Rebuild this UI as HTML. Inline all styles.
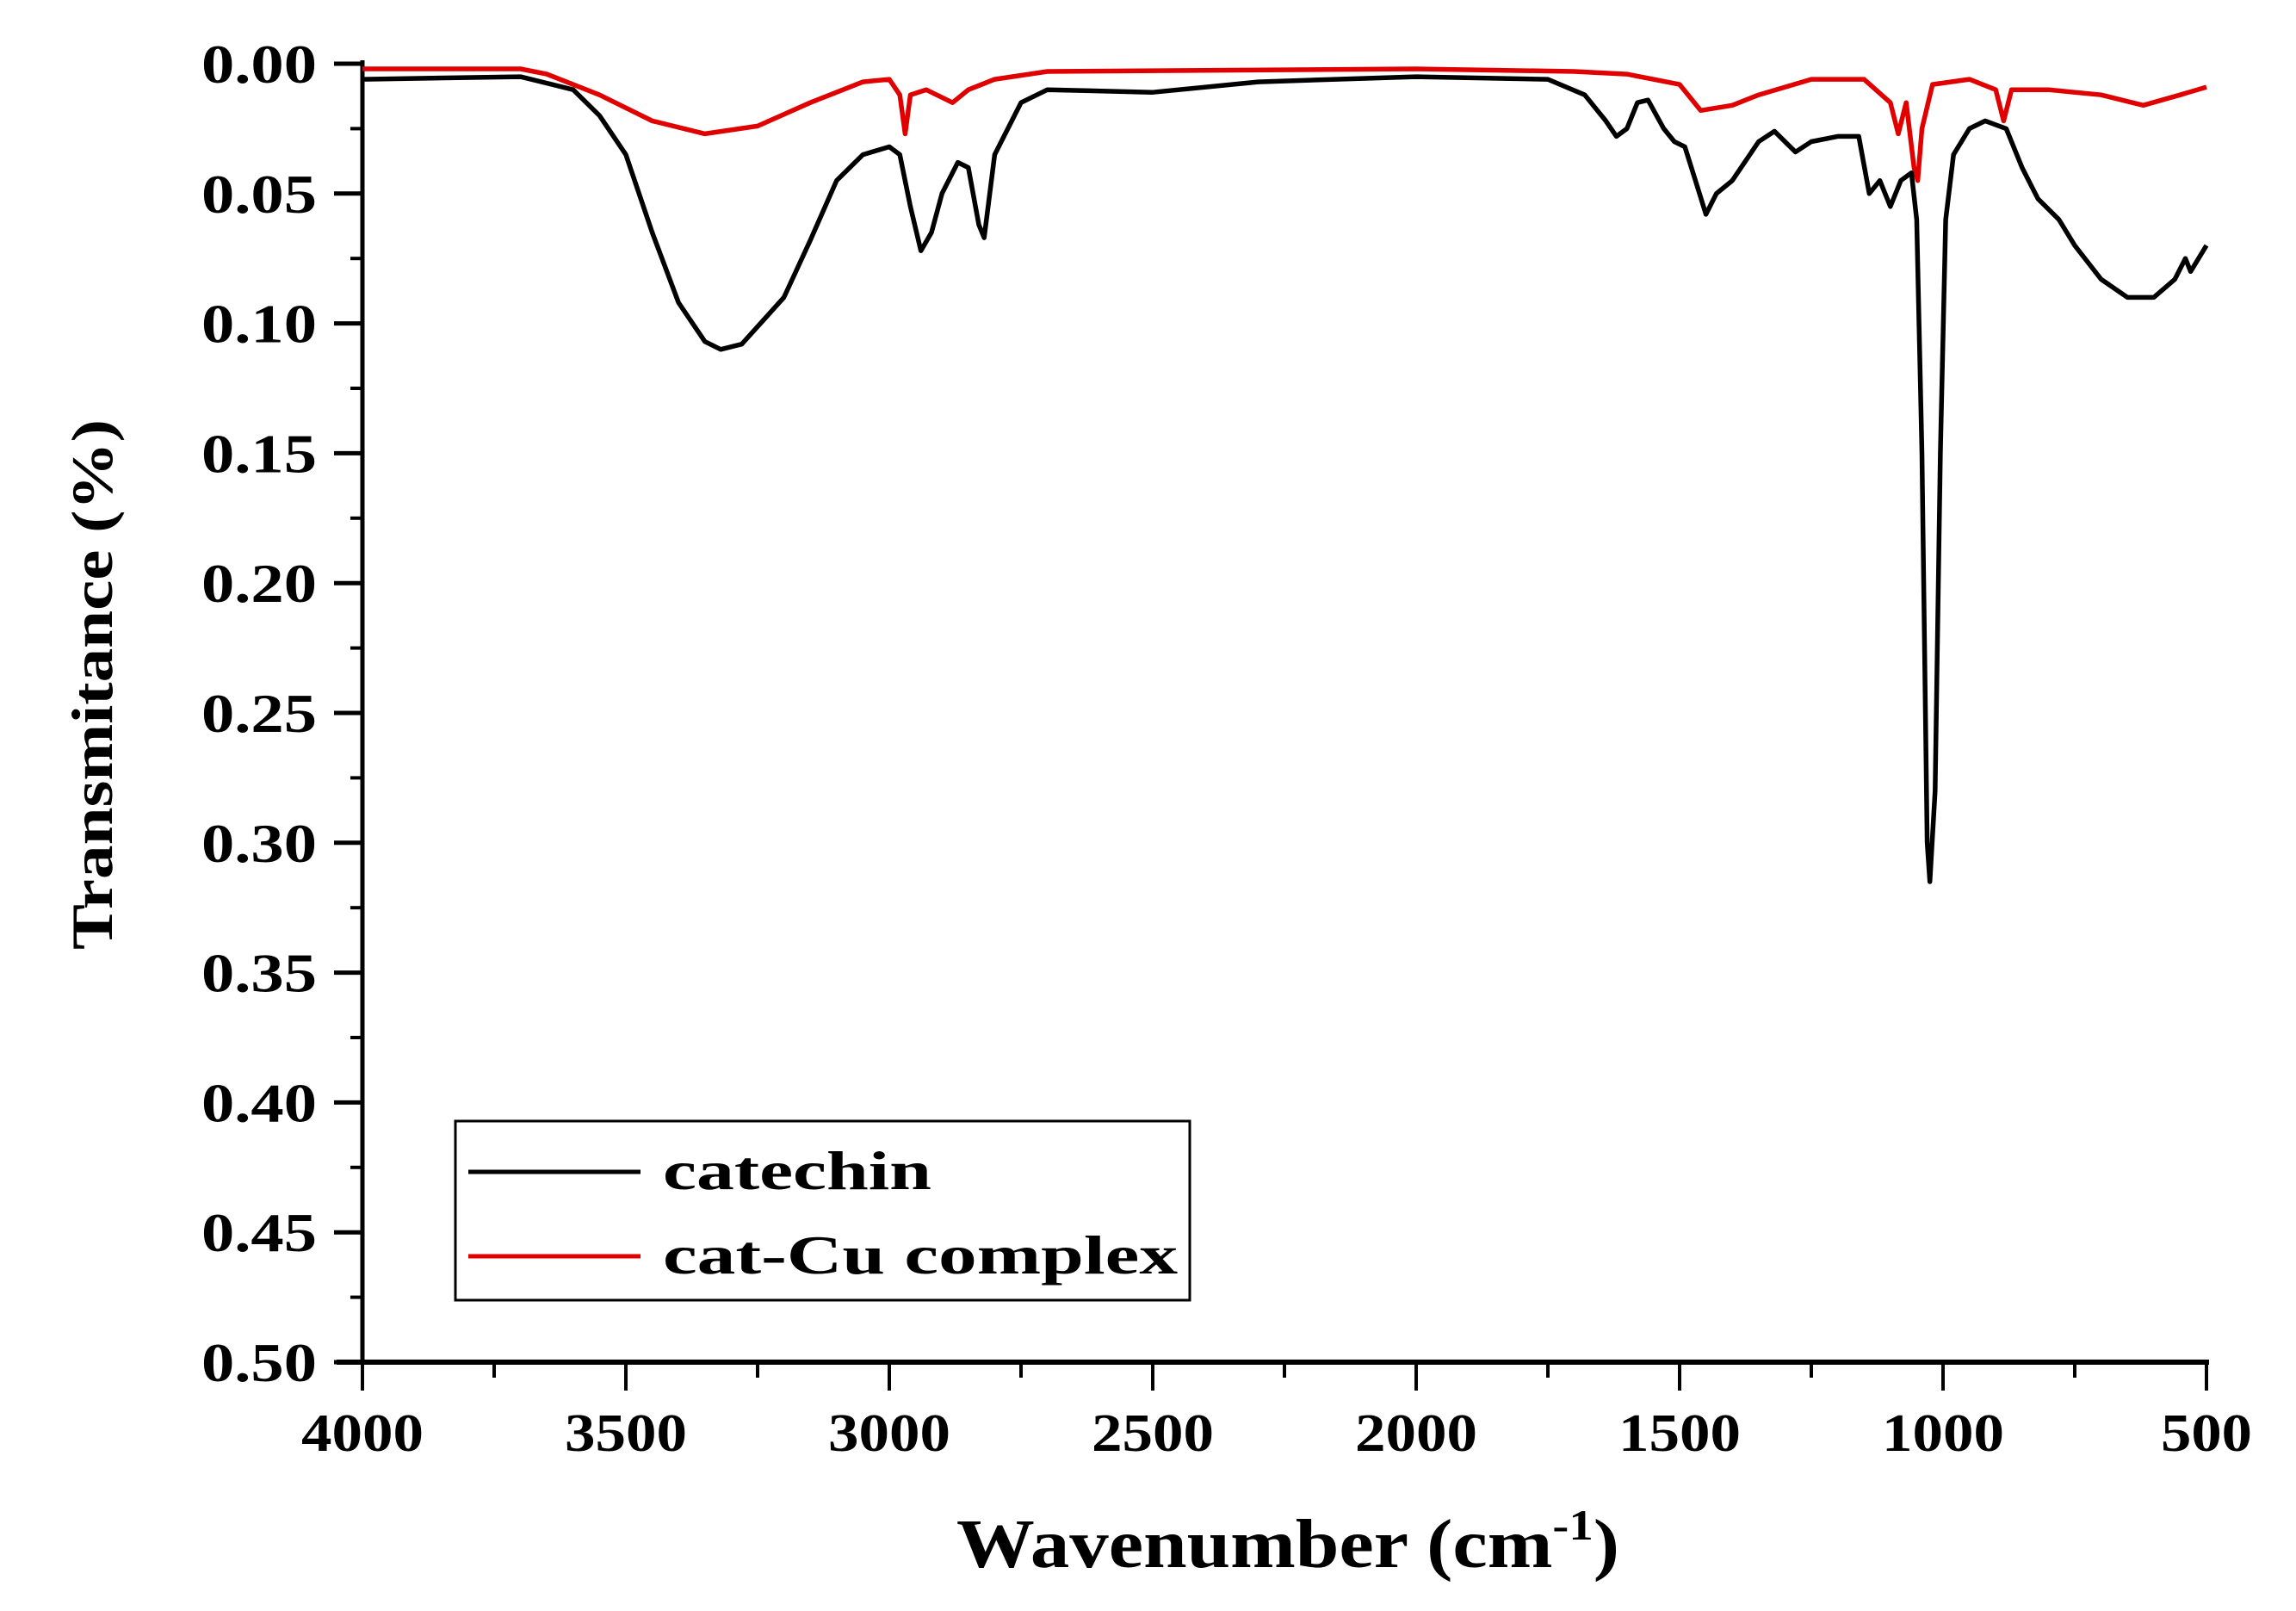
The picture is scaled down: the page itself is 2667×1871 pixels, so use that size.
<!DOCTYPE html>
<html><head><meta charset="utf-8"><style>html,body{margin:0;padding:0;background:#fff}svg{display:block}text{font-family:"Liberation Serif",serif;font-weight:bold;fill:#000}</style></head>
<body>
<svg id="chart" width="2667" height="1871" viewBox="0 0 2667 1871" xmlns="http://www.w3.org/2000/svg">
<g id="axes"></g>
<g id="series"></g>
<text transform="translate(130,795) rotate(-90)" text-anchor="middle" font-size="68" textLength="616" lengthAdjust="spacingAndGlyphs">Transmitance (%)</text>
<text x="1111" y="1820" font-size="80" textLength="770" lengthAdjust="spacingAndGlyphs">Wavenumber (cm<tspan dy="-32" font-size="50">-1</tspan><tspan dy="32">)</tspan></text>
<g>
<rect x="529" y="1302" width="853" height="208" fill="#fff" stroke="#000" stroke-width="3"/>
<line x1="544" y1="1361" x2="744" y2="1361" stroke="#000" stroke-width="5"/>
<text x="770" y="1381" font-size="64" textLength="312" lengthAdjust="spacingAndGlyphs">catechin</text>
<line x1="544" y1="1459" x2="744" y2="1459" stroke="#e00000" stroke-width="5"/>
<text x="770" y="1479" font-size="64" textLength="598" lengthAdjust="spacingAndGlyphs">cat-Cu complex</text>
</g>
</svg>
<script>
const xTicks=[4000,3500,3000,2500,2000,1500,1000,500];
const yTicks=[0,0.05,0.10,0.15,0.20,0.25,0.30,0.35,0.40,0.45,0.50];
const yTickLabels=["0.00","0.05","0.10","0.15","0.20","0.25","0.30","0.35","0.40","0.45","0.50"];
const catWn=[4000,3700,3600,3550,3500,3450,3400,3350,3320,3280,3200,3150,3100,3050,3000,2980,2960,2940,2920,2900,2870,2850,2830,2820,2800,2750,2700,2500,2300,2000,1750,1680,1640,1620,1600,1580,1560,1530,1510,1490,1470,1450,1430,1400,1350,1320,1300,1280,1250,1200,1160,1140,1120,1100,1080,1060,1050,1040,1030,1025,1015,1005,995,980,950,920,880,850,820,780,750,700,650,600,560,540,530,500];
const catVal=[0.006,0.005,0.01,0.02,0.035,0.065,0.092,0.107,0.11,0.108,0.09,0.068,0.045,0.035,0.032,0.035,0.055,0.072,0.065,0.05,0.038,0.04,0.062,0.067,0.035,0.015,0.01,0.011,0.007,0.005,0.006,0.012,0.022,0.028,0.025,0.015,0.014,0.025,0.03,0.032,0.045,0.058,0.05,0.045,0.03,0.026,0.03,0.034,0.03,0.028,0.028,0.05,0.045,0.055,0.045,0.042,0.06,0.15,0.3,0.315,0.28,0.15,0.06,0.035,0.025,0.022,0.025,0.04,0.052,0.06,0.07,0.083,0.09,0.09,0.083,0.075,0.08,0.07];
const cuWn=[4000,3700,3650,3550,3450,3350,3250,3150,3050,3000,2980,2970,2960,2930,2880,2850,2800,2700,2000,1700,1600,1500,1460,1400,1350,1250,1150,1100,1085,1070,1055,1048,1040,1020,950,900,885,870,800,700,620,550,500];
const cuVal=[0.002,0.002,0.004,0.012,0.022,0.027,0.024,0.015,0.007,0.006,0.012,0.027,0.012,0.01,0.015,0.01,0.006,0.003,0.002,0.003,0.004,0.008,0.018,0.016,0.012,0.006,0.006,0.015,0.027,0.015,0.04,0.045,0.025,0.008,0.006,0.01,0.022,0.01,0.01,0.012,0.016,0.012,0.009];
const NS="http://www.w3.org/2000/svg";
const X0=421,X1=2563,Y0=74,Y1=1582;
function sx(w){return X0+(4000-w)/3500*(X1-X0);}
function sy(v){return Y0+v/0.5*(Y1-Y0);}
function mk(tag,attrs,parent){const e=document.createElementNS(NS,tag);for(const k in attrs)e.setAttribute(k,attrs[k]);parent.appendChild(e);return e;}
const ax=document.getElementById('axes');
let e=mk('line',{x1:X0,y1:Y0-4,x2:X0,y2:Y1,stroke:'#000','stroke-width':5},ax);


e=mk('line',{x1:X0-30,y1:Y1,x2:X1+3,y2:Y1,stroke:'#000','stroke-width':6},ax);


yTicks.forEach((v,i)=>{
 let t=mk('line',{x1:X0-33,y1:sy(v),x2:X0,y2:sy(v),stroke:'#000','stroke-width':5},ax);
 
 
 if(i<yTicks.length-1){let m=mk('line',{x1:X0-14,y1:sy(v+0.025),x2:X0,y2:sy(v+0.025),stroke:'#000','stroke-width':4},ax);
 
 }
 let l=mk('text',{x:234,y:sy(v)+22,'font-size':64,textLength:134,lengthAdjust:'spacingAndGlyphs'},ax);l.textContent=yTickLabels[i];
 
 
});
xTicks.forEach((w,i)=>{
 let t=mk('line',{x1:sx(w),y1:Y1,x2:sx(w),y2:Y1+33,stroke:'#000','stroke-width':4},ax);
 
 
 if(i<xTicks.length-1){let m=mk('line',{x1:sx(w-250),y1:Y1,x2:sx(w-250),y2:Y1+18,stroke:'#000','stroke-width':4},ax);
 
 }
 let s=String(w);
 let tl=s.length===4?142:106;
 let l=mk('text',{x:sx(w)-tl/2,y:1685,'font-size':62,textLength:tl,lengthAdjust:'spacingAndGlyphs'},ax);l.textContent=s;
 
 
});
const sg=document.getElementById('series');
function pts(ws,vs){return ws.map((w,i)=>sx(w).toFixed(1)+','+sy(vs[i]).toFixed(1)).join(' ');}
let p2=mk('polyline',{points:pts(cuWn,cuVal),fill:'none',stroke:'#e00000','stroke-width':5.5,'stroke-linejoin':'round'},sg);


let p1=mk('polyline',{points:pts(catWn,catVal),fill:'none',stroke:'#000','stroke-width':5.5,'stroke-linejoin':'round'},sg);


</script>
</body></html>
